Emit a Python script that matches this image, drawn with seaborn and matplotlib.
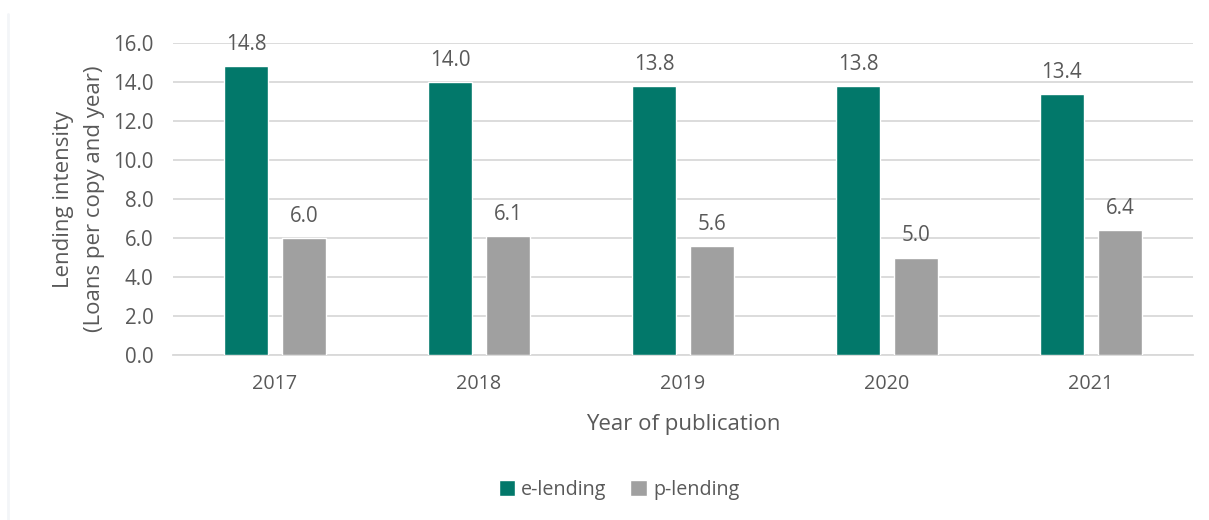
import matplotlib
matplotlib.use("Agg")
import matplotlib.pyplot as plt
import seaborn as sns
import pandas as pd
from matplotlib.patches import Patch

years = ["2017", "2018", "2019", "2020", "2021"]
e_lending = [14.8, 14.0, 13.8, 13.8, 13.4]
p_lending = [6.0, 6.1, 5.6, 5.0, 6.4]
series_names = ["e-lending", "p-lending"]
y_ticks = [0, 2, 4, 6, 8, 10, 12, 14, 16]

GREEN = "#02786A"
GRAY = "#A0A0A0"
TEXT = "#595959"

df = pd.DataFrame({
    "year": years * 2,
    "series": [series_names[0]] * len(years) + [series_names[1]] * len(years),
    "value": e_lending + p_lending,
})

sns.set_theme(style="white")
plt.rcParams["font.family"] = ["Open Sans", "DejaVu Sans"]

fig = plt.figure(figsize=(12.09, 5.2), dpi=100)
ax = fig.add_axes([173 / 1209, 1 - 355 / 520, 1020 / 1209, 312 / 520])

sns.barplot(data=df, x="year", y="value", hue="series", order=years,
            hue_order=series_names, palette=[GREEN, GRAY],
            width=0.57, gap=0.23, saturation=1, legend=False, ax=ax,
            zorder=3)

ax.set_xlim(-0.5, len(years) - 0.5)
ax.set_ylim(0, 16)
ax.set_yticks(y_ticks)
ax.set_yticklabels([f"{t:.1f}" for t in y_ticks])
ax.yaxis.grid(True, color="#D9D9D9", linewidth=1.3, zorder=0)
ax.set_axisbelow(True)
for s in ["top", "right", "left"]:
    ax.spines[s].set_visible(False)
ax.spines["bottom"].set_color("#D9D9D9")
ax.spines["bottom"].set_linewidth(1.3)
ax.tick_params(axis="y", length=0, labelsize=14.8, labelcolor=TEXT, pad=14)
ax.tick_params(axis="x", length=0, labelsize=14.2, labelcolor=TEXT, pad=14)

for container in ax.containers:
    ax.bar_label(container, fmt="%.1f", padding=8, fontsize=14.8, color=TEXT)

ax.set_xlabel("Year of publication", fontsize=16, color=TEXT, labelpad=14)
ax.set_ylabel("Lending intensity\n(Loans per copy and year)", fontsize=16,
              color=TEXT, labelpad=6, linespacing=1.6)

handles = [Patch(facecolor=GREEN, label=series_names[0]),
           Patch(facecolor=GRAY, label=series_names[1])]
fig.legend(handles=handles, loc="center", bbox_to_anchor=(619 / 1209, 1 - 490 / 520),
           ncol=2, frameon=False, fontsize=14.2, labelcolor=TEXT,
           handlelength=0.85, handleheight=0.85, handletextpad=0.3,
           columnspacing=1.2)

fig.add_artist(plt.Line2D([7.5 / 1209, 7.5 / 1209], [0, 1 - 14 / 520],
                          transform=fig.transFigure, color="#F3F5F8", linewidth=2))

fig.savefig("out.png", dpi=100)
